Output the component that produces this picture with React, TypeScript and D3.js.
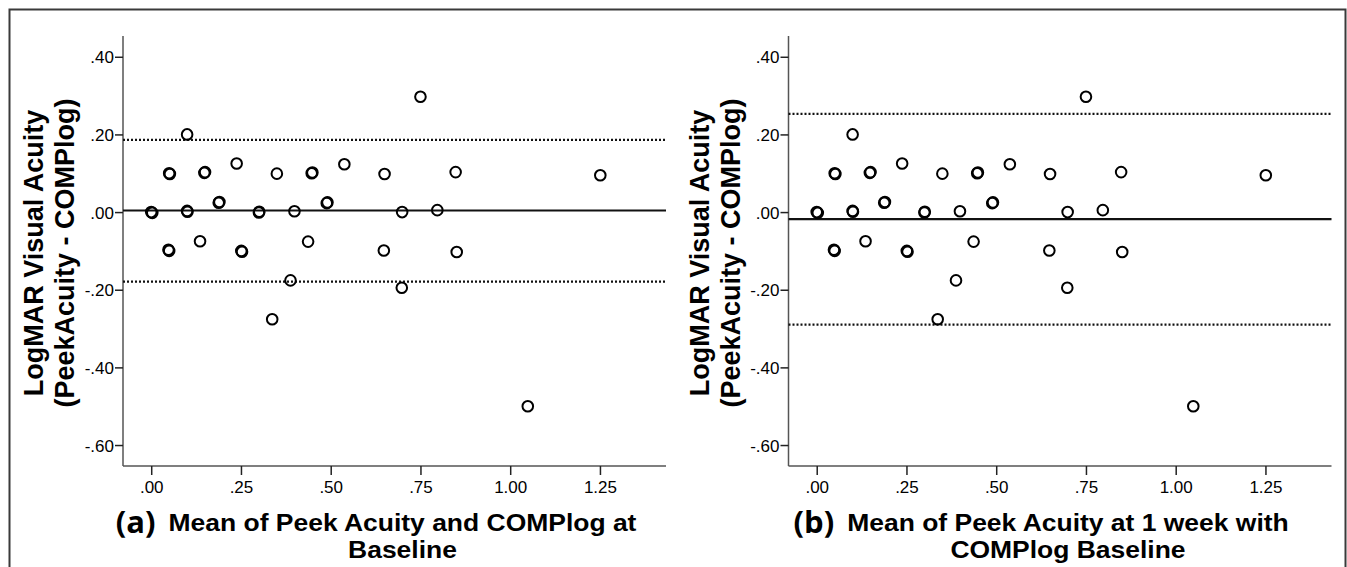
import { useEffect, useRef } from 'react';
import * as d3 from 'd3';

// Bland-Altman data (same points in both panels)
const meanX = [
  0.0, 0.003, 0.05, 0.052, 0.048, 0.05, 0.1, 0.1, 0.101, 0.15, 0.148, 0.136,
  0.188, 0.19, 0.238, 0.251, 0.253, 0.3, 0.301, 0.35, 0.337, 0.388, 0.399,
  0.449, 0.447, 0.437, 0.489, 0.491, 0.538, 0.65, 0.648, 0.75, 0.699, 0.698,
  0.797, 0.848, 0.851, 1.049, 1.251,
];
const diffY = [
  0.0, -0.002, 0.1, 0.098, -0.097, -0.1, 0.2, 0.003, 0.001, 0.103, 0.101, -0.075,
  0.024, 0.026, 0.125, -0.1, -0.102, -0.001, 0.001, 0.099, -0.276, -0.176, 0.002,
  0.102, 0.1, -0.076, 0.023, 0.025, 0.123, 0.098, -0.099, 0.297, 0.0, -0.195,
  0.005, 0.103, -0.103, -0.5, 0.095,
];

const panelTags = ['(a)', '(b)'];
const titleLine1 = ['Mean of Peek Acuity and COMPlog at', 'Mean of Peek Acuity at 1 week with'];
const titleLine2 = ['Baseline', 'COMPlog Baseline'];
const meanDiff = [0.004, -0.018];
const upperLoA = [0.186, 0.253];
const lowerLoA = [-0.179, -0.29];

const xTicks = [0, 0.25, 0.5, 0.75, 1.0, 1.25];
const yTicks = [-0.6, -0.4, -0.2, 0.0, 0.2, 0.4];
const yLabel1 = 'LogMAR Visual Acuity';
const yLabel2 = '(PeekAcuity - COMPlog)';

const W = 1347;
const H = 567;
const SANS = '"Liberation Sans", Arial, sans-serif';

// SPSS style: ".40", "-.20", "1.00"
const fmt = (v: number) => d3.format('.2f')(v).replace('\u2212', '-').replace(/^(-?)0\./, '$1.');

// widen a text element horizontally (reference text is a bit stretched)
function stretch(t: any, k: number) {
  const n = t.node() as SVGTextElement;
  const len = n.getComputedTextLength();
  t.attr('textLength', len * k).attr('lengthAdjust', 'spacingAndGlyphs');
}

function drawPanel(g: any, i: number, left: number) {
  const top = 36;
  const bottom = 466;
  const right = left + 543;

  const x = d3.scaleLinear().domain([-0.0786, 1.434]).range([left, right]);
  const y = d3.scaleLinear().domain([-0.654, 0.4535]).range([bottom, top]);

  // axes
  const yAxis = d3.axisLeft(y).tickValues(yTicks).tickFormat(fmt as any).tickSize(8).tickPadding(1);
  const xAxis = d3.axisBottom(x).tickValues(xTicks).tickFormat(fmt as any).tickSize(9).tickPadding(6);

  const ya = g.append('g').attr('transform', `translate(${left},0)`).call(yAxis);
  const xa = g.append('g').attr('transform', `translate(0,${bottom})`).call(xAxis);
  [ya, xa].forEach((a) => {
    a.attr('font-size', null).attr('font-family', null);
    a.select('.domain').attr('stroke', '#555').attr('stroke-width', 1.5);
    a.selectAll('.tick line').attr('stroke', '#222').attr('stroke-width', 1.5);
    a.selectAll('.tick text')
      .attr('fill', '#000')
      .attr('font-family', SANS)
      .attr('font-size', 17);
  });
  ya.selectAll('.tick text').attr('dy', '0.36em');
  ya.select('.domain').attr('d', `M0,${top}V${bottom}`);
  xa.select('.domain').attr('d', `M${left},0H${right}`);

  // mean and limits of agreement
  g.append('line')
    .attr('x1', left).attr('x2', right)
    .attr('y1', y(meanDiff[i])).attr('y2', y(meanDiff[i]))
    .attr('stroke', '#111').attr('stroke-width', 2.2);
  [upperLoA[i], lowerLoA[i]].forEach((v) => {
    g.append('line')
      .attr('x1', left).attr('x2', right)
      .attr('y1', y(v)).attr('y2', y(v))
      .attr('stroke', '#111').attr('stroke-width', 2.3)
      .attr('stroke-dasharray', '2,2');
  });

  // points
  g.append('g')
    .selectAll('circle')
    .data(meanX.map((m, k) => [m, diffY[k]]))
    .enter()
    .append('circle')
    .attr('cx', (d: number[]) => x(d[0]))
    .attr('cy', (d: number[]) => y(d[1]))
    .attr('r', 5.3)
    .attr('fill', 'none')
    .attr('stroke', '#000')
    .attr('stroke-width', 2);

  // y title
  const cy = (top + bottom) / 2 + 2;
  const yt = g.append('g').attr('transform', `translate(${left - 80},${cy}) rotate(-90)`);
  yt.append('text')
    .attr('text-anchor', 'middle')
    .attr('y', 0)
    .style('font-family', SANS)
    .style('font-weight', 'bold')
    .style('font-size', '27px')
    .text(yLabel1);
  yt.append('text')
    .attr('text-anchor', 'middle')
    .attr('y', 31)
    .style('font-family', SANS)
    .style('font-weight', 'bold')
    .style('font-size', '27px')
    .text(yLabel2);

  // x title
  const cx = (left + right) / 2 + 8;
  const t1 = g.append('text')
    .attr('x', cx)
    .attr('y', 531)
    .attr('text-anchor', 'middle')
    .style('font-family', SANS)
    .style('font-weight', 'bold')
    .style('font-size', '23px')
    .text(titleLine1[i]);
  stretch(t1, 1.15);
  const bb = (t1.node() as SVGTextElement).getBBox();
  g.append('text')
    .attr('x', bb.x - 13)
    .attr('y', 533)
    .attr('text-anchor', 'end')
    .style('font-family', '"Open Sans", sans-serif')
    .style('font-weight', 'bold')
    .style('font-size', '31px')
    .text(panelTags[i]);
  const t2 = g.append('text')
    .attr('x', cx)
    .attr('y', 558)
    .attr('text-anchor', 'middle')
    .style('font-family', SANS)
    .style('font-weight', 'bold')
    .style('font-size', '23px')
    .text(titleLine2[i]);
  stretch(t2, 1.15);
}

export default function App() {
  const ref = useRef<SVGSVGElement>(null);

  useEffect(() => {
    const svg = d3.select(ref.current);
    svg.selectAll('*').remove();

    svg.append('rect').attr('width', W).attr('height', H).attr('fill', '#fff');
    svg.append('rect')
      .attr('x', 9.5).attr('y', 9.5)
      .attr('width', 1336).attr('height', 600)
      .attr('fill', 'none')
      .attr('stroke', '#3a3a3a')
      .attr('stroke-width', 2);

    drawPanel(svg.append('g'), 0, 123);
    drawPanel(svg.append('g'), 1, 788.5);
  }, []);

  return (
    <svg
      ref={ref}
      width={W}
      height={H}
      style={{ position: 'absolute', left: 0, top: 0, background: '#fff' }}
    />
  );
}
